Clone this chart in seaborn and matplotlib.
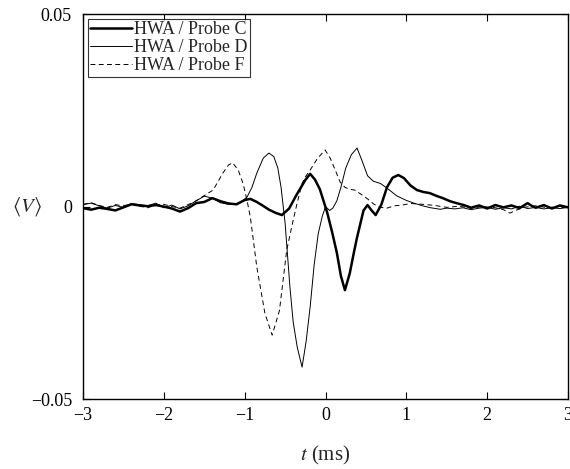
import numpy as np
import pandas as pd
import matplotlib
matplotlib.use("Agg")
import matplotlib.pyplot as plt
import seaborn as sns

# time axis (ms) and phase-averaged signal <V> (values read in units of 1e-3)
t_c = [-3.0, -2.9, -2.8, -2.7, -2.6, -2.5, -2.4, -2.3, -2.2, -2.1, -2.0, -1.9, -1.8, -1.7, -1.6,
       -1.5, -1.4, -1.3, -1.2, -1.1, -1.0,
       -0.93, -0.85, -0.78, -0.7, -0.62, -0.54, -0.45, -0.36, -0.25, -0.19, -0.13, -0.07,
       0.02, 0.08, 0.14, 0.19, 0.24, 0.30, 0.35, 0.39, 0.47, 0.52, 0.57, 0.62, 0.69, 0.76, 0.83, 0.90, 0.97,
       1.05, 1.13, 1.21, 1.29, 1.37, 1.45, 1.54, 1.62, 1.71, 1.8, 1.9,
       2.0, 2.1, 2.2, 2.3, 2.4, 2.5, 2.55, 2.6, 2.7, 2.8, 2.9, 3.0]
v_c = [-0.4, -0.8, -0.3, -0.6, -1.0, -0.2, 0.6, 0.3, 0.1, 0.4, 0.0, -0.5, -1.3, -0.4, 0.9,
       1.2, 2.2, 1.4, 0.8, 0.6, 1.7,
       2.0, 1.2, 0.3, -0.8, -1.6, -2.2, -0.5, 3.0, 6.9, 8.5, 7.0, 4.5,
       -1.5, -6.5, -12.0, -18.0, -21.7, -17.3, -12.0, -8.0, -1.0, 0.4, -1.0, -2.2, 0.5, 5.0, 7.5, 8.2, 7.4,
       5.5, 4.3, 3.8, 3.5, 2.8, 2.2, 1.4, 0.9, 0.4, -0.3, 0.3,
       -0.5, 0.4, -0.2, 0.3, -0.4, 0.9, 0.2, -0.3, 0.4, -0.5, 0.3, -0.2]

t_d = [-3.0, -2.9, -2.8, -2.7, -2.6, -2.5, -2.4, -2.3, -2.2, -2.1, -2.0, -1.9, -1.8, -1.7, -1.6,
       -1.5, -1.4, -1.3, -1.2, -1.1,
       -1.03, -0.97, -0.91, -0.85, -0.77, -0.70, -0.64, -0.59, -0.55, -0.50,
       -0.44, -0.40, -0.35, -0.29, -0.24, -0.19, -0.14, -0.09, -0.04, 0.0,
       0.05, 0.09, 0.14, 0.19, 0.25, 0.32, 0.39, 0.45, 0.52, 0.59,
       0.68, 0.76, 0.88, 1.0, 1.08, 1.2, 1.3, 1.42, 1.5, 1.6,
       1.7, 1.8, 1.9, 2.0, 2.1, 2.2, 2.3, 2.4, 2.5, 2.6, 2.7, 2.8, 2.9, 3.0]
v_d = [0.5, 0.9, 0.2, -0.4, 0.3, -0.2, 0.8, 0.5, 0.2, 0.9, -0.3, 0.4, -0.6, 0.2, 1.5,
       2.7, 2.2, 1.0, 0.6, 0.8,
       1.4, 2.5, 5.0, 8.7, 12.6, 13.9, 13.0, 10.0, 5.0, -4.3,
       -21.0, -30.0, -36.5, -41.7, -35.0, -26.0, -15.0, -7.0, -2.5, 0.0,
       -1.0, -0.4, 1.5, 5.0, 10.0, 13.5, 15.2, 12.0, 8.0, 6.6,
       6.0, 4.8, 2.8, 1.6, 1.0, 0.2, -0.3, -0.7, -0.4, -0.6,
       -0.3, -0.8, -0.4, -0.2, -0.7, -0.3, -0.6, 0.1, -0.5, -0.2, -0.6, -0.3, -0.5, -0.2]

t_f = [-3.0, -2.9, -2.8, -2.7, -2.6, -2.5, -2.4, -2.3, -2.2, -2.1, -2.0, -1.9, -1.8, -1.7, -1.6,
       -1.49, -1.39, -1.27, -1.2, -1.15,
       -1.08, -1.02, -0.97, -0.93, -0.85, -0.75, -0.66, -0.57, -0.48, -0.40,
       -0.35, -0.29, -0.25, -0.19, -0.1, -0.005, 0.06, 0.12, 0.18, 0.24,
       0.30, 0.36, 0.44, 0.52, 0.60, 0.68, 0.76, 0.85, 0.95, 1.05,
       1.2, 1.35, 1.5, 1.65, 1.8, 1.95, 2.1, 2.2, 2.28, 2.36,
       2.45, 2.6, 2.75, 2.9, 3.0]
v_f = [0.6, 1.0, 0.3, -0.2, 0.5, 0.2, 0.7, 0.1, -0.3, 0.4, 0.6, 0.0, -0.4, 0.5, 1.5,
       3.0, 4.3, 8.7, 10.8, 11.4,
       9.5, 6.0, 1.5, -2.7, -15.7, -27.7, -33.4, -27.0, -11.3, -3.5,
       1.0, 6.0, 7.7, 9.5, 12.5, 14.7, 12.5, 9.5, 6.4, 5.0,
       4.5, 4.3, 3.2, 2.0, 0.6, -0.2, -0.4, 0.2, 0.4, 0.8,
       0.6, 0.3, -0.2, 0.1, -0.4, 0.0, -0.3, -0.8, -1.7, -0.9,
       -0.2, 0.2, -0.3, 0.1, -0.2]

labels = ["HWA / Probe C", "HWA / Probe D", "HWA / Probe F"]

sns.set_style("ticks")
plt.rcParams["font.family"] = ["Liberation Serif", "DejaVu Serif"]
plt.rcParams["mathtext.fontset"] = "stix"
plt.rcParams["font.size"] = 13

fig = plt.figure(figsize=(5.7, 4.69), dpi=100)
ax = fig.add_axes([0.1456, 0.149, 0.851, 0.821])

sns.lineplot(x=t_c, y=np.array(v_c) * 1e-3, ax=ax, color="black", linewidth=1.8, label=labels[0])
sns.lineplot(x=t_d, y=np.array(v_d) * 1e-3, ax=ax, color="black", linewidth=0.7, label=labels[1])
sns.lineplot(x=t_f, y=np.array(v_f) * 1e-3, ax=ax, color="black", linewidth=0.7,
             linestyle=(0, (5, 3.5)), label=labels[2])

ax.set_xlim(-3, 3)
ax.set_ylim(-0.05, 0.05)
ax.set_xticks([-3, -2, -1, 0, 1, 2, 3])
ax.set_xticklabels(["\u22123", "\u22122", "\u22121", "0", "1", "2", "3"])
ax.set_yticks([-0.05, 0, 0.05])
ax.set_yticklabels(["\u22120.05", "0", "0.05"])
ax.tick_params(direction="in", top=True, right=True, length=5, width=0.8,
               labelsize=13, colors="black", pad=6)
ax.tick_params(axis="y", pad=8)
for s in ax.spines.values():
    s.set_color("black")
    s.set_linewidth(1.0)

ax.set_xlabel(r"$t$ (ms)", fontsize=15, labelpad=14)
ax.set_ylabel(r"$\langle V\rangle$", fontsize=15, rotation=0, va="center", ha="center")
ax.yaxis.set_label_coords(-0.115, 0.5)

leg = ax.legend(loc="upper left", frameon=True, fancybox=False, fontsize=13,
                borderaxespad=0.25, borderpad=0.15, handlelength=2.3, handletextpad=0.1,
                labelspacing=0.05)
leg.get_frame().set_edgecolor("black")
leg.get_frame().set_linewidth(0.8)

fig.savefig("out.png", dpi=100)
